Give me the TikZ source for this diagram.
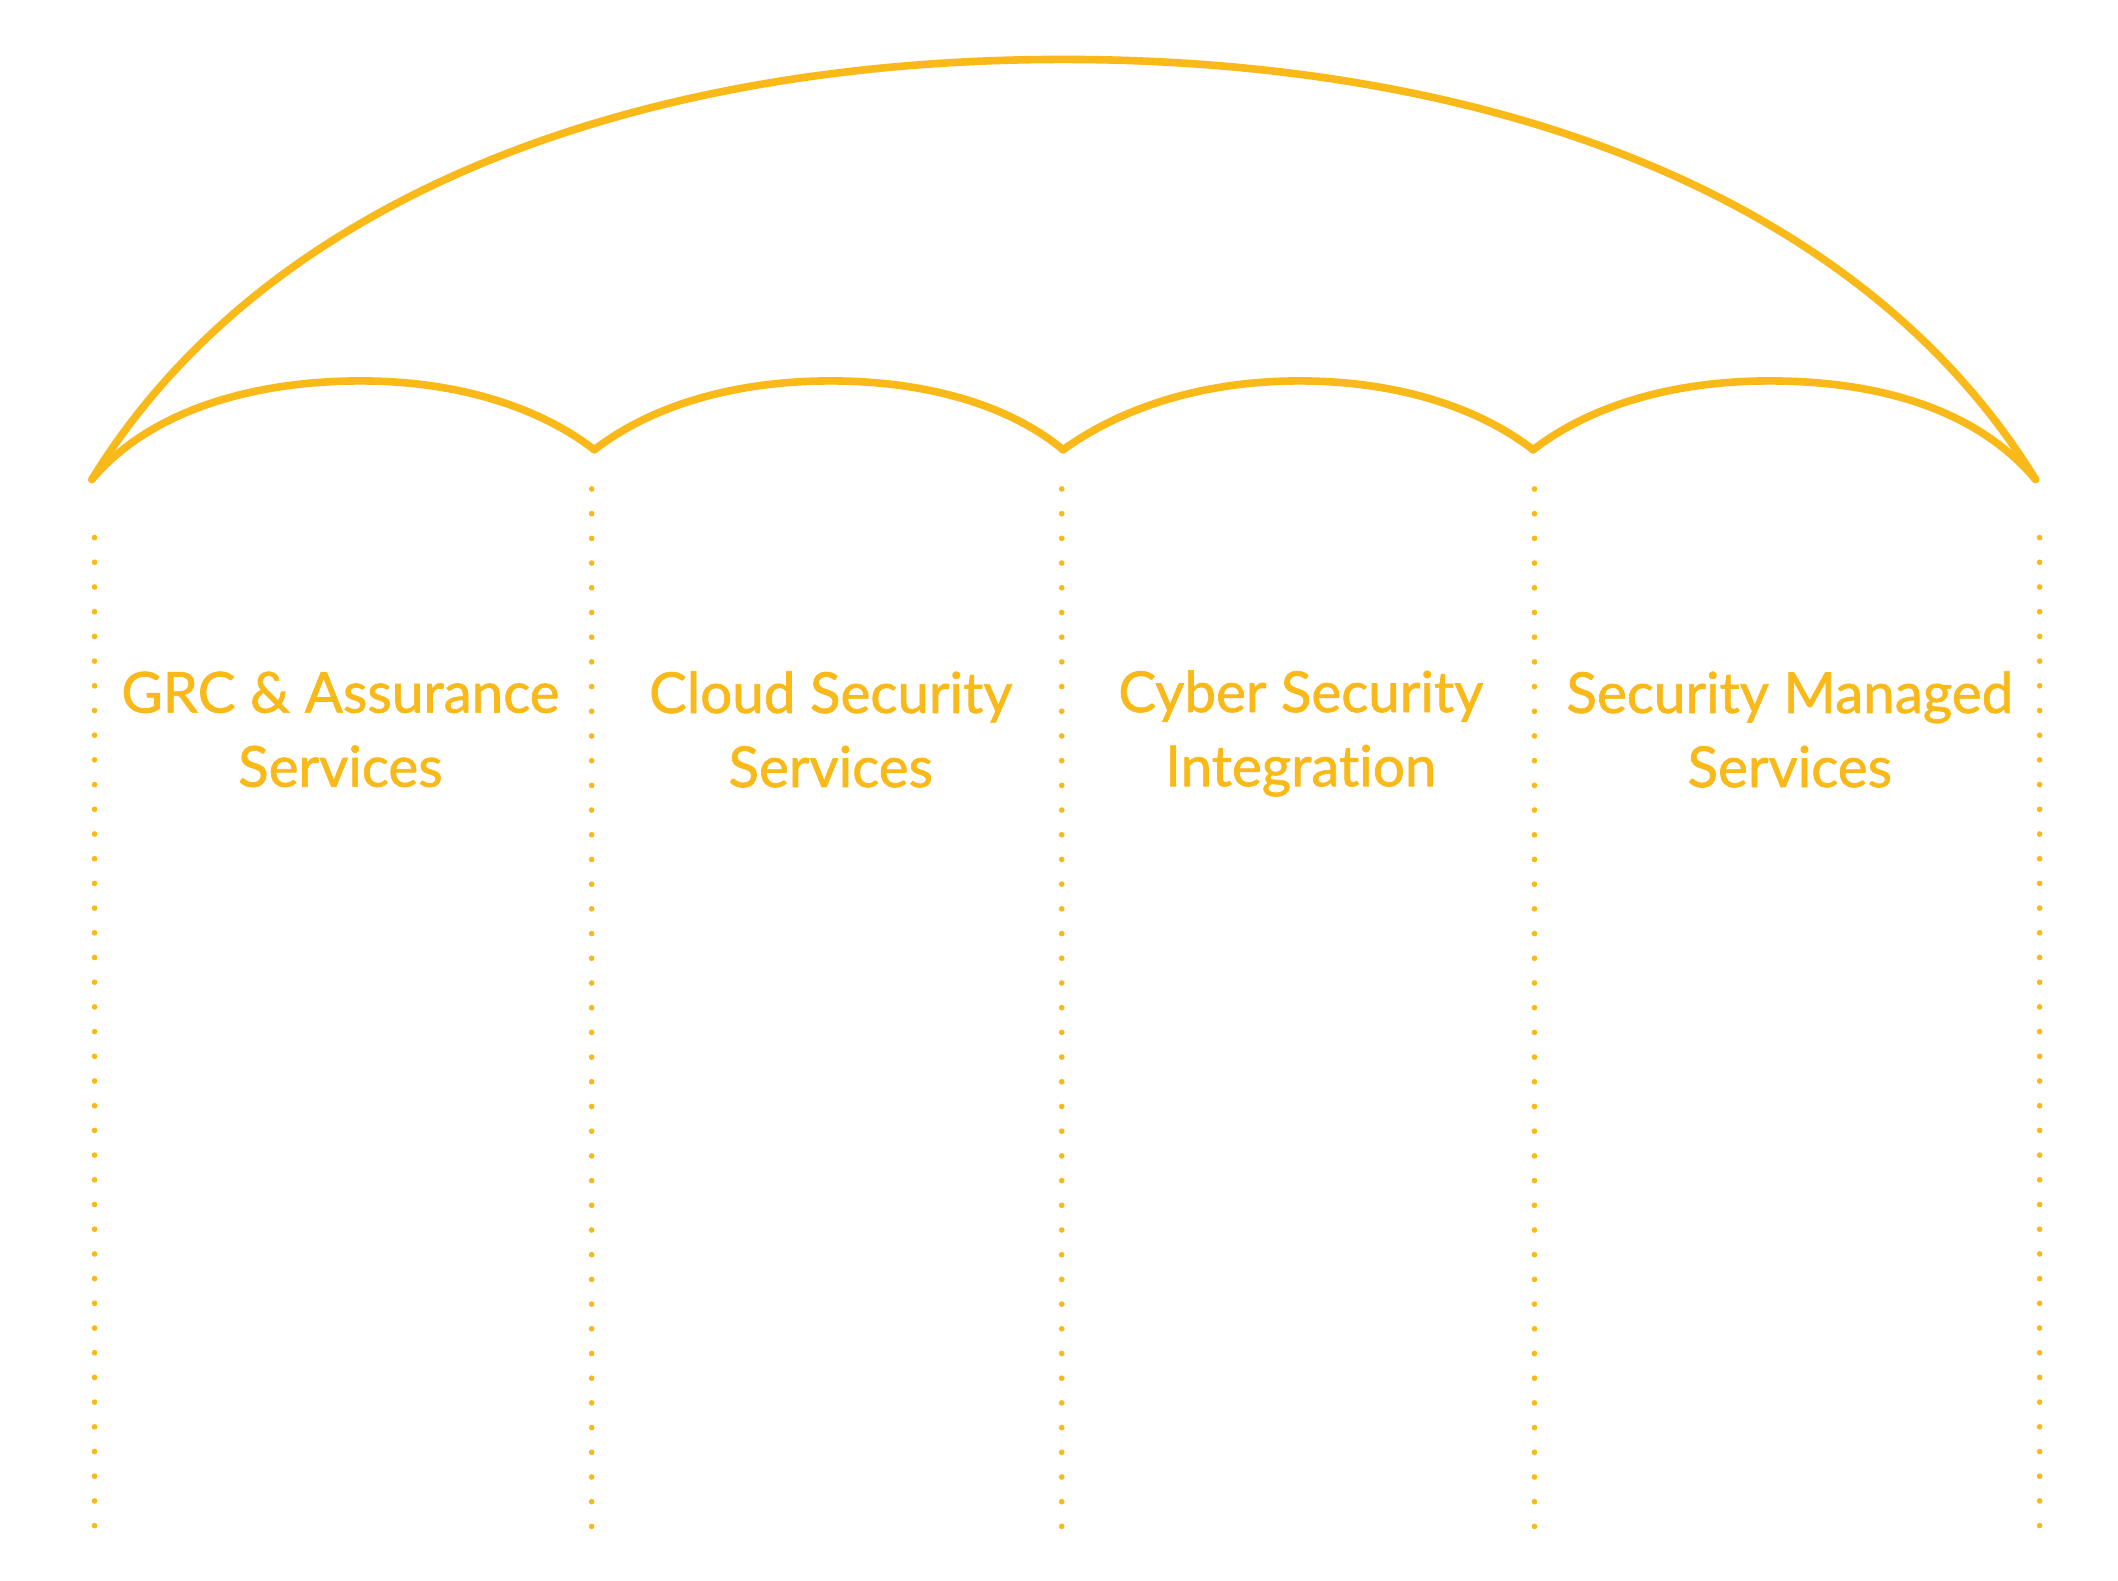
\documentclass[tikz,border=0pt]{standalone}
\usepackage{fontspec}
\setmainfont{Lato}[Ligatures=NoCommon, FakeBold=1.2]
\usetikzlibrary{positioning}
\definecolor{gold}{HTML}{F9B918}

\begin{document}
\begin{tikzpicture}[
    x=0.01cm, y=-0.01cm,
    every node/.style={font=\fontsize{11.9}{15.6}\selectfont, text=gold},
    label/.style={align=center},
    arc/.style={draw=gold, line width=1.6pt, line join=round, line cap=round},
    divider/.style={draw=gold, line width=1.2pt, line cap=round, dash pattern=on 0pt off 5.2pt}
]
\useasboundingbox (0,0) rectangle (1568,1170);

% Anchor points of the roof
\coordinate (p0) at (68,355);
\coordinate (p1) at (440,333);
\coordinate (p2) at (787,333);
\coordinate (p3) at (1135,333);
\coordinate (p4) at (1507,355);
\coordinate (top) at (787,44);

% Big arc
\draw[arc] (p0) .. controls (200,140) and (480,44) .. (top)
    .. controls (1095,44) and (1375,140) .. (p4);

% Small arcs
\draw[arc] (p0) .. controls (110,305) and (185,282) .. (267,282)
    .. controls (340,282) and (400,302) .. (p1);
\draw[arc] (p1) .. controls (480,302) and (540,282) .. (615,282)
    .. controls (690,282) and (750,302) .. (p2);
\draw[arc] (p2) .. controls (830,302) and (890,282) .. (962,282)
    .. controls (1035,282) and (1095,302) .. (p3);
\draw[arc] (p3) .. controls (1175,302) and (1235,282) .. (1310,282)
    .. controls (1395,282) and (1465,305) .. (p4);

% Dotted dividers
\coordinate (d0a) at (70,398);   \coordinate (d0b) at (70,1132);
\coordinate (d1a) at (438,362);  \coordinate (d1b) at (438,1132);
\coordinate (d2a) at (786,362);  \coordinate (d2b) at (786,1132);
\coordinate (d3a) at (1136,362); \coordinate (d3b) at (1136,1132);
\coordinate (d4a) at (1510,398); \coordinate (d4b) at (1510,1132);
\foreach \i in {0,...,4}
    \draw[divider] (d\i a) -- (d\i b);

% Labels
\node[label] (grc) at (252,540) {GRC \& Assurance\\Services};
\node[label] (cloud) at (615,540) {Cloud Security\\Services};
\node[label] (cyber) at (963,543) {Cyber Security\\Integration};
\node[label] (managed) at (1325,540) {Security Managed\\Services};

\end{tikzpicture}
\end{document}
